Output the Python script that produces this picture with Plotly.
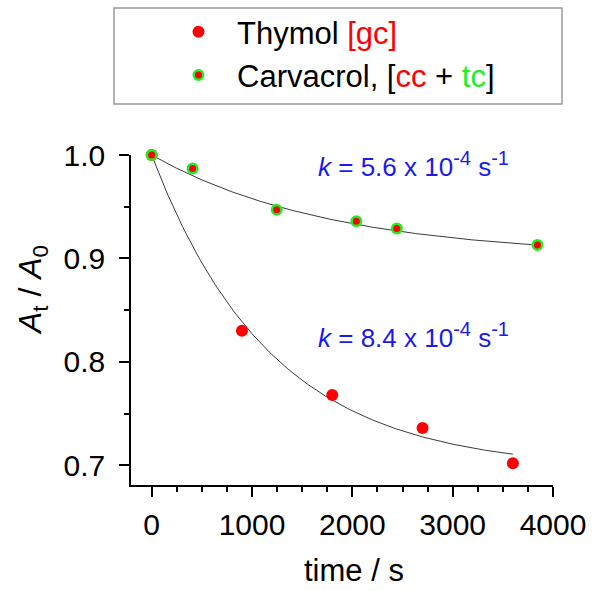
import numpy as np
import plotly.graph_objects as go

# Data
thymol_t = [0, 900, 1800, 2700, 3600]
thymol_a = [1.0, 0.830, 0.768, 0.736, 0.702]
carv_t = [0, 408, 1246, 2040, 2443, 3845]
carv_a = [1.0, 0.987, 0.947, 0.936, 0.929, 0.913]

# First-order fit parameters: rate constant (s^-1) and plateau
k_values = [8.4e-4, 5.6e-4]
plateaus = [0.696, 0.9015]
fit_ends = [3600, 3845]

x_ticks = [0, 1000, 2000, 3000, 4000]
y_ticks = [0.7, 0.8, 0.9, 1.0]
y_ticklabels = ["0.7", "0.8", "0.9", "1.0"]

FONT = "Liberation Sans, Arial, sans-serif"
RED = "#ff0000"
GREEN = "#22ee22"
BLUE = "#1a1aee"

fig = go.Figure()

for k, p, tend in zip(k_values, plateaus, fit_ends):
    t = np.linspace(0, tend, 200)
    fig.add_trace(go.Scatter(
        x=t, y=p + (1 - p) * np.exp(-k * t), mode="lines",
        line=dict(color="#3a3a3a", width=1), showlegend=False, hoverinfo="skip",
        cliponaxis=False))

fig.add_trace(go.Scatter(
    x=thymol_t, y=thymol_a, mode="markers",
    name="Thymol <span style='color:#ff0000'>[gc]</span>",
    marker=dict(color=RED, size=12, line=dict(width=0)), cliponaxis=False))

fig.add_trace(go.Scatter(
    x=carv_t, y=carv_a, mode="markers",
    name="Carvacrol, [<span style='color:#ff0000'>cc</span> + <span style='color:#22ee22'>tc</span>]",
    marker=dict(color=RED, size=9.5, line=dict(width=2.5, color=GREEN)), cliponaxis=False))

axis_common = dict(
    showline=True, linecolor="black", linewidth=1.6,
    ticks="outside", ticklen=10, tickwidth=1.5, tickcolor="black",
    showgrid=False, zeroline=False, automargin=False,
    tickfont=dict(family=FONT, size=30, color="black"),
)

fig.update_xaxes(
    range=[-206, 4000], tickvals=x_ticks, ticklabelstandoff=2,
    minor=dict(ticks="outside", ticklen=5, tickwidth=1.5, tickcolor="black", dtick=250, tick0=0),
    **axis_common)
fig.update_yaxes(
    range=[0.681, 1.0], tickvals=y_ticks, ticktext=y_ticklabels, ticklabelstandoff=8,
    minor=dict(ticks="outside", ticklen=5, tickwidth=1.5, tickcolor="black", dtick=0.05, tick0=0.7),
    **axis_common)

W, H = 592, 591
ml, mr, mt, mb = 131, 39, 155, 106
pw, ph = W - ml - mr, H - mt - mb

def px(xp):
    return (xp - ml) / pw

def py(yp):
    return (H - mb - yp) / ph

SUP = "<sup><span style='font-size:20px'>{}</span></sup>"
k_text = "<i>k</i> = {} x 10" + SUP.format("-4") + " s" + SUP.format("-1")

fig.update_layout(
    width=W, height=H,
    margin=dict(l=ml, r=mr, t=mt, b=mb, pad=0, autoexpand=False),
    paper_bgcolor="white", plot_bgcolor="white",
    font=dict(family=FONT, color="black"),
    showlegend=True,
    legend=dict(
        x=px(160), y=py(5), xanchor="left", yanchor="top",
        font=dict(family=FONT, size=31, color="black"),
        bgcolor="rgba(0,0,0,0)", borderwidth=0, itemwidth=67,
        tracegroupgap=0,
    ),
    shapes=[dict(
        type="rect", xref="paper", yref="paper",
        x0=px(114), x1=px(562), y0=py(104), y1=py(8),
        line=dict(color="#9a9a9a", width=1.5), fillcolor="rgba(0,0,0,0)", layer="below")],
    annotations=[
        dict(text=k_text.format("5.6"),
             xref="paper", yref="paper", x=px(316), y=py(184), xanchor="left", yanchor="bottom",
             showarrow=False, font=dict(family=FONT, size=26, color=BLUE)),
        dict(text=k_text.format("8.4"),
             xref="paper", yref="paper", x=px(316), y=py(355), xanchor="left", yanchor="bottom",
             showarrow=False, font=dict(family=FONT, size=26, color=BLUE)),
        dict(text="time / s", xref="paper", yref="paper", x=px(354), y=py(570),
             xanchor="center", yanchor="middle", showarrow=False,
             font=dict(family=FONT, size=31, color="black")),
        dict(text="<i>A</i><sub>t</sub> / <i>A</i><sub>0</sub>", xref="paper", yref="paper",
             x=px(32), y=py(290), xanchor="center", yanchor="middle", textangle=-90,
             showarrow=False, font=dict(family=FONT, size=32, color="black")),
    ],
)

fig.write_html("out.html")
